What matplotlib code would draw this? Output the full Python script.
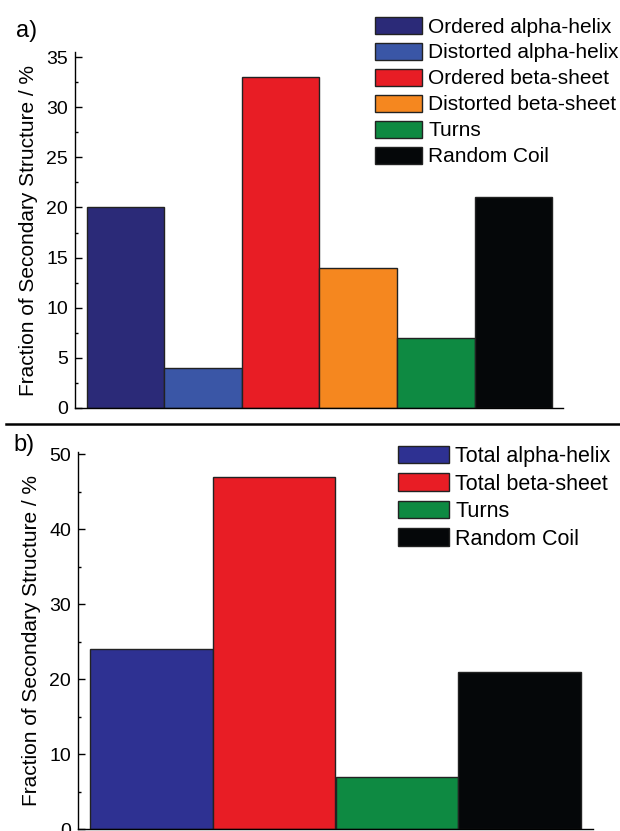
import matplotlib
matplotlib.use("Agg")
import matplotlib.pyplot as plt
from matplotlib.patches import Patch
from matplotlib.lines import Line2D
from matplotlib.ticker import MultipleLocator

plt.rcParams["font.family"] = ["Liberation Sans", "DejaVu Sans"]

# 数据：二级结构比例 (%)
labels_a = ["Ordered alpha-helix", "Distorted alpha-helix", "Ordered beta-sheet",
            "Distorted beta-sheet", "Turns", "Random Coil"]
values_a = [20, 4, 33, 14, 7, 21]
colors_a = ["#2b2a78", "#3a56a6", "#e81d25", "#f5871f", "#0e8a42", "#050709"]

labels_b = ["Total alpha-helix", "Total beta-sheet", "Turns", "Random Coil"]
values_b = [24, 47, 7, 21]
colors_b = ["#2e3192", "#e81d25", "#0e8a42", "#050709"]

ylabel = "Fraction of Secondary Structure / %"

fig = plt.figure(figsize=(6.2, 8.31), dpi=100)


def style_axes(ax, major, minor):
    ax.spines["top"].set_visible(False)
    ax.spines["right"].set_visible(False)
    ax.spines["left"].set_linewidth(1.0)
    ax.spines["bottom"].set_linewidth(1.0)
    ax.yaxis.set_major_locator(MultipleLocator(major))
    ax.yaxis.set_minor_locator(MultipleLocator(minor))
    ax.tick_params(axis="y", which="major", direction="in", length=5, width=1,
                   labelsize=14, pad=5)
    ax.tick_params(axis="y", which="minor", direction="in", length=2.5, width=1)
    ax.set_xticks([])
    ax.set_ylabel(ylabel, fontsize=15, labelpad=6)


# 上图 a)
ax1 = fig.add_axes([75 / 620, 1 - 408 / 831, (563 - 75) / 620, (408 - 52) / 831])
x_a = list(range(len(values_a)))
ax1.bar(x_a, values_a, width=1.0, color=colors_a, edgecolor="#222222", linewidth=1.0)
ax1.set_xlim(-0.65, 5.64)
ax1.set_ylim(0, 35.5)
style_axes(ax1, 5, 2.5)
handles_a = [Patch(facecolor=c, edgecolor="#222222", linewidth=1.0) for c in colors_a]
fig.legend(handles_a, labels_a, loc="upper left", bbox_to_anchor=(375 / 620, 1 - 17 / 831),
           frameon=False, fontsize=15, handlelength=2.25, handleheight=0.85,
           handletextpad=0.3, labelspacing=0.31, borderpad=0, borderaxespad=0)
fig.text(16 / 620, 1 - 37 / 831, "a)", fontsize=17, va="baseline")

# 分隔线
fig.add_artist(Line2D([0.01, 1.0], [1 - 424 / 831, 1 - 424 / 831], color="black",
                      linewidth=1.8, transform=fig.transFigure))

# 下图 b)
ax2 = fig.add_axes([78 / 620, 1 - 829 / 831, (593 - 78) / 620, (829 - 452) / 831])
x_b = list(range(len(values_b)))
ax2.bar(x_b, values_b, width=1.0, color=colors_b, edgecolor="#222222", linewidth=1.0)
ax2.set_xlim(-0.6, 3.6)
ax2.set_ylim(0, 50.3)
style_axes(ax2, 10, 5)
handles_b = [Patch(facecolor=c, edgecolor="#222222", linewidth=1.0) for c in colors_b]
fig.legend(handles_b, labels_b, loc="upper left", bbox_to_anchor=(398 / 620, 1 - 446 / 831),
           frameon=False, fontsize=15.5, handlelength=2.35, handleheight=0.85,
           handletextpad=0.3, labelspacing=0.3, borderpad=0, borderaxespad=0)
fig.text(13 / 620, 1 - 451 / 831, "b)", fontsize=17, va="baseline")

fig.savefig("out.png", dpi=100)
